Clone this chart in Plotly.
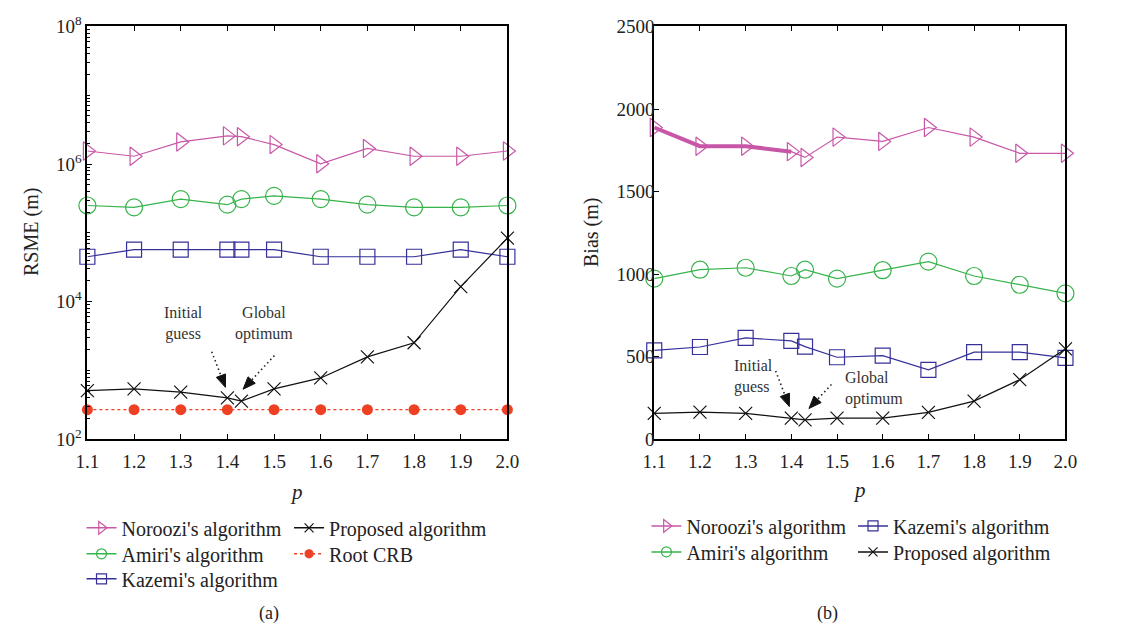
import math
import plotly.graph_objects as go

# ---------------- data ----------------
p_vals = [1.1, 1.2, 1.3, 1.4, 1.43, 1.5, 1.6, 1.7, 1.8, 1.9, 2.0]
p_crb = [1.1, 1.2, 1.3, 1.4, 1.5, 1.6, 1.7, 1.8, 1.9, 2.0]
x_tick_vals = [1.1, 1.2, 1.3, 1.4, 1.5, 1.6, 1.7, 1.8, 1.9, 2.0]
x_tick_text = ["1.1", "1.2", "1.3", "1.4", "1.5", "1.6", "1.7", "1.8", "1.9", "2.0"]

# (a) RMSE (m), log scale
rmse_noroozi = [1.55e6, 1.3e6, 2.1e6, 2.57e6, 2.5e6, 1.92e6, 1.01e6, 1.69e6, 1.3e6, 1.3e6, 1.55e6]
rmse_amiri = [2.5e5, 2.35e5, 3.1e5, 2.57e5, 3.1e5, 3.45e5, 3.1e5, 2.57e5, 2.35e5, 2.35e5, 2.5e5]
rmse_kazemi = [4.5e4, 5.7e4, 5.7e4, 5.7e4, 5.7e4, 5.7e4, 4.5e4, 4.5e4, 4.5e4, 5.7e4, 4.5e4]
rmse_proposed = [510, 540, 484, 400, 359, 540, 780, 1580, 2530, 16600, 84000]
rmse_crb = [270, 270, 270, 270, 270, 270, 270, 270, 270, 270]

# (b) Bias (m)
bias_noroozi = [1888, 1775, 1775, 1742, 1707, 1830, 1804, 1888, 1830, 1732, 1732]
bias_amiri = [973, 1027, 1039, 989, 1027, 973, 1024, 1076, 989, 936, 884]
bias_kazemi = [538, 559, 614, 596, 561, 497, 507, 421, 528, 528, 493]
bias_proposed = [157, 165, 157, 128, 118, 128, 128, 163, 231, 361, 548]

y_log_ticks = [1e2, 1e4, 1e6, 1e8]
y_log_text = ["10<sup>2</sup>", "10<sup>4</sup>", "10<sup>6</sup>", "10<sup>8</sup>"]
y_log_minor = [k * 10 ** n for n in range(2, 8) for k in range(1, 10)]
y_lin_ticks = [0, 500, 1000, 1500, 2000, 2500]

# ---------------- style ----------------
FONT = "Liberation Serif"
TXT = "#222222"
C_NOR = "#C857A8"
C_AMI = "#36B34A"
C_KAZ = "#35309A"
C_PRO = "#111111"
C_CRB = "#EE4124"

W, H = 1146, 637
L1, R1 = 77, 506
L2, R2 = 656, 1076
TOP, BOT = 14, 443


def fx(px):
    return px / W


def fy(py):
    return 1 - py / H


# name, colour, symbol, plot size, legend size
series = [
    ("Noroozi's algorithm", C_NOR, "triangle-right-open", 16, 11),
    ("Amiri's algorithm", C_AMI, "circle-open", 17, 10),
    ("Kazemi's algorithm", C_KAZ, "square-open", 15, 10),
    ("Proposed algorithm", C_PRO, "x-thin-open", 13, 9),
]

fig = go.Figure()


def data_trace(x, y, col, sym, sz, xa, ya, dash="solid", lw=1.2):
    fig.add_trace(go.Scatter(
        x=x, y=y, mode="lines+markers", xaxis=xa, yaxis=ya,
        line=dict(color=col, width=lw, dash=dash),
        marker=dict(symbol=sym, size=sz, color=col, line=dict(color=col, width=1.2)),
        cliponaxis=False, showlegend=False))


def legend_trace(name, col, sym, sz, lg, dash="solid"):
    fig.add_trace(go.Scatter(
        x=[None], y=[None], name=name, mode="lines+markers", xaxis="x", yaxis="y",
        line=dict(color=col, width=1.5, dash=dash),
        marker=dict(symbol=sym, size=sz, color=col, line=dict(color=col, width=1.2)),
        legend=lg, showlegend=True))


left_data = [rmse_noroozi, rmse_amiri, rmse_kazemi, rmse_proposed]
for (name, col, sym, sz, lsz), yv in zip(series, left_data):
    data_trace(p_vals, yv, col, sym, sz, "x", "y")
fig.add_trace(go.Scatter(
    x=p_crb, y=rmse_crb, mode="lines+markers", xaxis="x", yaxis="y",
    line=dict(color=C_CRB, width=1.2, dash="dot"),
    marker=dict(symbol="circle", size=11, color=C_CRB),
    cliponaxis=False, showlegend=False))

# thick overlapping segment in (b)
fig.add_trace(go.Scatter(
    x=p_vals[:4], y=bias_noroozi[:4], mode="lines", xaxis="x2", yaxis="y2",
    line=dict(color=C_NOR, width=4), showlegend=False, hoverinfo="skip"))

right_data = [bias_noroozi, bias_amiri, bias_kazemi, bias_proposed]
for (name, col, sym, sz, lsz), yv in zip(series, right_data):
    data_trace(p_vals, yv, col, sym, sz, "x2", "y2")

# legend entries: one legend per entry so each row can be placed exactly
# (legend id, text-left px, row-centre px)
left_slots = [("legend", 122, 535), ("legend2", 122, 562), ("legend3", 122, 588),
              ("legend4", 334, 535)]
right_slots = [("legend6", 699, 533), ("legend7", 699, 560),
               ("legend8", 910, 533), ("legend9", 910, 560)]
for (name, col, sym, sz, lsz), slot in zip(series, left_slots):
    legend_trace(name, col, sym, lsz, slot[0])
legend_trace("Root CRB", C_CRB, "circle", 8, "legend5", dash="dot")
for (name, col, sym, sz, lsz), slot in zip(series, right_slots):
    legend_trace(name, col, sym, lsz, slot[0])
all_slots = left_slots + [("legend5", 334, 562)] + right_slots

tickfont = dict(family=FONT, size=19, color=TXT)
axis_common = dict(showgrid=False, zeroline=False, showline=True, linecolor="black",
                   linewidth=2, ticks="inside", tickcolor="black", ticklen=5,
                   tickfont=tickfont, title=dict(text=""))

fig.update_layout(
    width=W, height=H,
    margin=dict(l=0, r=0, t=0, b=0),
    paper_bgcolor="white", plot_bgcolor="white",
    font=dict(family=FONT, color=TXT),
    xaxis=dict(domain=[fx(L1), fx(R1)], range=[1.1, 2.0], anchor="y",
               tickvals=x_tick_vals, ticktext=x_tick_text, mirror="ticks",
               ticklabelstandoff=4, **axis_common),
    yaxis=dict(domain=[fy(BOT), fy(TOP)], type="log", range=[2, 8], anchor="x",
               tickvals=y_log_ticks, ticktext=y_log_text, mirror=True,
               minor=dict(tickvals=y_log_minor, ticks="inside", ticklen=3, tickcolor="black"),
               **axis_common),
    xaxis2=dict(domain=[fx(L2), fx(R2)], range=[1.1, 2.0], anchor="y2",
                tickvals=x_tick_vals, ticktext=x_tick_text, mirror="ticks",
                ticklabelstandoff=4, **axis_common),
    yaxis2=dict(domain=[fy(BOT), fy(TOP)], range=[0, 2500], anchor="x2",
                tickvals=y_lin_ticks, mirror=True, ticklabelstandoff=-6, **axis_common),
    showlegend=True,
)

legfont = dict(family=FONT, size=20, color=TXT)
leg_common = dict(orientation="v", xanchor="left", yanchor="middle", bgcolor="rgba(0,0,0,0)",
                  font=legfont, tracegroupgap=0, itemwidth=30)
fig.update_layout(**{lg: dict(x=fx(tx - 51), y=fy(ry), **leg_common)
                     for lg, tx, ry in all_slots})

ann = []


def label(text, px, py, size, angle=0, yanchor="middle"):
    ann.append(dict(text=text, x=fx(px), y=fy(py), xref="paper", yref="paper",
                    xanchor="center", yanchor=yanchor, textangle=angle,
                    showarrow=False, font=dict(family=FONT, size=size, color=TXT)))


label("RSME (m)", 20, 228, 20, -90)
label("Bias (m)", 592, 228, 20, -90)
label("<i>p</i>", 291, 498, 21)
label("<i>p</i>", 866, 496, 21)
label("(a)", 262, 637, 18, yanchor="bottom")
label("(b)", 833, 637, 18, yanchor="bottom")

afont = dict(family=FONT, size=16, color="#333333")
ann.append(dict(text="Initial<br>guess", x=fx(175), y=fy(323), xref="paper", yref="paper",
                xanchor="center", yanchor="middle", showarrow=False, font=afont, align="center"))
ann.append(dict(text="Global<br>optimum", x=fx(257), y=fy(323), xref="paper", yref="paper",
                xanchor="center", yanchor="middle", showarrow=False, font=afont, align="center"))
ann.append(dict(text="Initial<br>guess", x=fx(735), y=fy(378), xref="paper", yref="paper",
                xanchor="left", yanchor="middle", showarrow=False, font=afont, align="left"))
ann.append(dict(text="Global<br>optimum", x=fx(849), y=fy(390), xref="paper", yref="paper",
                xanchor="left", yanchor="middle", showarrow=False, font=afont, align="left"))

# arrows: (tail px, head px)
arrows = [((204, 352), (218, 389)), ((268, 356), (236, 391)),
          ((780, 372), (794, 409)), ((837, 386), (814, 411))]
shapes = []
HEAD_LEN, HEAD_HW = 13, 5
for (tx, ty), (hx, hy) in arrows:
    dx, dy = hx - tx, hy - ty
    d = math.hypot(dx, dy)
    ux, uy = dx / d, dy / d
    bx, by = hx - ux * HEAD_LEN, hy - uy * HEAD_LEN
    nx, ny = -uy, ux
    shapes.append(dict(type="line", xref="paper", yref="paper",
                       x0=fx(tx), y0=fy(ty), x1=fx(bx), y1=fy(by),
                       line=dict(color="#222", width=1.6, dash="1.5px,3px")))
    path = "M {:.5f} {:.5f} L {:.5f} {:.5f} L {:.5f} {:.5f} Z".format(
        fx(hx), fy(hy), fx(bx + nx * HEAD_HW), fy(by + ny * HEAD_HW),
        fx(bx - nx * HEAD_HW), fy(by - ny * HEAD_HW))
    shapes.append(dict(type="path", xref="paper", yref="paper", path=path,
                       fillcolor="#111", line=dict(color="#111", width=1)))

fig.update_layout(annotations=ann, shapes=shapes)
fig.write_html("out.html")
